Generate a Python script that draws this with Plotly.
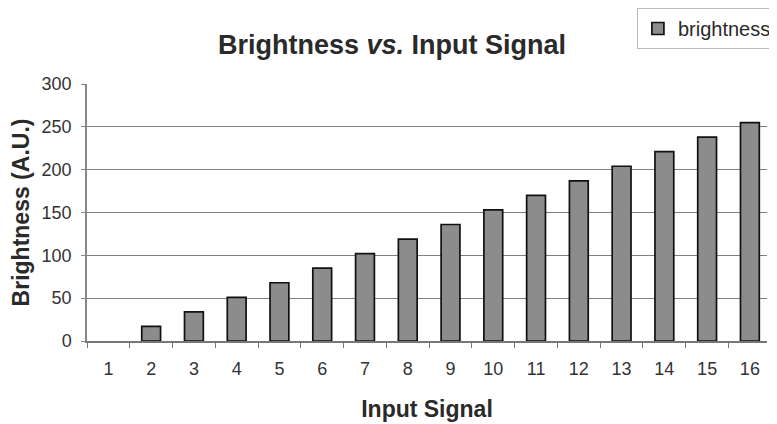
import plotly.graph_objects as go

categories = [str(i) for i in range(1, 17)]
brightness = [0, 17, 34, 51, 68, 85, 102, 119, 136, 153, 170, 187, 204, 221, 238, 255]
y_ticks = [0, 50, 100, 150, 200, 250, 300]

FONT = "Liberation Sans, Arial, sans-serif"
# page body has an 8px margin, so the figure is sized/positioned to compensate
W, H = 769, 416
L, T, B = 79, 76, 83
PW = W - L
PH = H - T - B

# traces are fed last-to-first so the legend swatch takes the outlined style
x_data = categories[::-1]
y_data = brightness[::-1]

fig = go.Figure()
fig.add_trace(go.Bar(
    x=x_data, y=y_data, name="brightness",
    marker=dict(color="#8c8c8c",
                line=dict(color="#111111", width=[0 if v == 0 else 1.7 for v in y_data])),
))

fig.update_layout(
    width=W, height=H,
    margin=dict(l=L, r=0, t=T, b=B, pad=0),
    paper_bgcolor="white", plot_bgcolor="white",
    bargap=0.56,
    font=dict(family=FONT, color="#333333"),
    title=dict(text="<b>Brightness <i>vs.</i> Input Signal</b>",
               x=384 / W, xanchor="center", y=1 - 37 / H, yanchor="middle",
               yref="container", font=dict(size=27, color="#2a2a2a")),
    showlegend=True,
    legend=dict(x=(637 - L) / PW, xanchor="left", y=(T + PH) / PH, yanchor="top",
                bgcolor="white", bordercolor="#bbbbbb", borderwidth=1,
                font=dict(size=20, color="#2a2a2a"), itemwidth=30,
                tracegroupgap=0),
    xaxis=dict(
        type="category", categoryorder="array", categoryarray=categories,
        range=[-0.5, 15.4],
        showline=True, linecolor="#777777", linewidth=1.5,
        ticks="outside", tickson="boundaries", ticklen=5, tickcolor="#777777",
        ticklabelstandoff=11,
        tickfont=dict(size=18, color="#333333"),
        title=dict(text="<b>Input Signal</b>", font=dict(size=23, color="#2a2a2a"), standoff=23),
        showgrid=False,
    ),
    yaxis=dict(
        range=[0, 300], tickvals=y_ticks,
        showline=True, linecolor="#888888", linewidth=1.5,
        showgrid=True, gridcolor="#7f7f7f", gridwidth=1.4,
        zeroline=False,
        ticks="outside", ticklen=4, tickcolor="#888888",
        ticklabelstandoff=6,
        tickfont=dict(size=18, color="#333333"),
        title=dict(text="<b>Brightness (A.U.)</b>", font=dict(size=23, color="#2a2a2a"), standoff=8),
    ),
)

fig.write_html("out.html")
